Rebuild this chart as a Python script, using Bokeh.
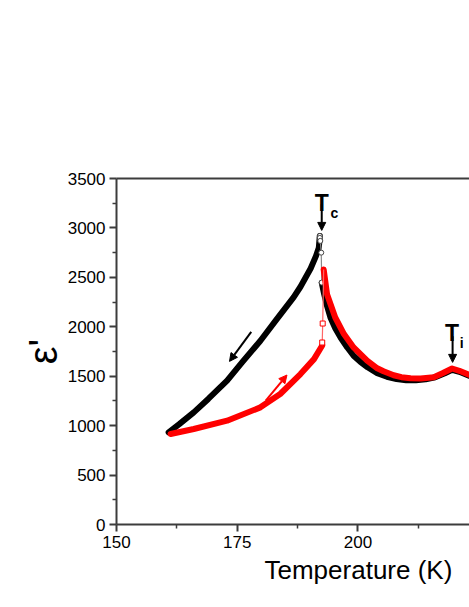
from bokeh.plotting import figure
from bokeh.models import Range1d, LinearAxis, FixedTicker, Arrow, NormalHead, Label, Title
from bokeh.embed import file_html
from bokeh.resources import INLINE

# ---- data ----
# cooling run (black): low-T branch up to the peak at Tc
cool_low_T = [160.8, 163.0, 166.0, 169.0, 172.9, 176.0, 179.8, 183.0, 186.7, 188.1, 190.2, 191.3, 191.9, 192.1]
cool_low_eps = [932, 1015, 1134, 1270, 1455, 1640, 1859, 2065, 2300, 2405, 2590, 2715, 2801, 2919]
# cooling run: sparse points across the jump at Tc
cool_jump_T = [192.1, 192.1, 192.2, 192.4, 192.5]
cool_jump_eps = [2919, 2899, 2869, 2750, 2447]
# cooling run: high-T branch
cool_high_T = [192.5, 193.0, 193.6, 194.3, 195.3, 196.4, 197.8, 199.1, 200.5, 202.0, 204.0, 206.0,
               208.0, 210.0, 212.0, 214.0, 216.0, 218.0, 219.5, 221.0, 223.0]
cool_high_eps = [2447, 2330, 2210, 2094, 1985, 1892, 1790, 1707, 1645, 1590, 1530, 1495,
                 1472, 1458, 1458, 1468, 1490, 1530, 1565, 1545, 1505]

# heating run (red): low-T branch
heat_low_T = [161.2, 166.0, 172.9, 179.8, 183.9, 188.1, 190.9, 192.6]
heat_low_eps = [916, 966, 1050, 1185, 1320, 1522, 1673, 1810]
# heating run: sparse points across the jump
heat_jump_T = [192.6, 192.6, 192.7, 192.9]
heat_jump_eps = [1810, 1841, 2033, 2580]
heat_jump_mark_T = [192.6, 192.7]
heat_jump_mark_eps = [1841, 2033]
# heating run: high-T branch
heat_high_T = [192.9, 193.6, 195.3, 197.1, 199.1, 201.9, 204.0, 205.3, 207.4, 209.0, 210.9, 213.0,
               215.7, 217.5, 219.5, 221.0, 223.0]
heat_high_eps = [2580, 2330, 2094, 1926, 1791, 1657, 1580, 1550, 1510, 1490, 1480, 1476,
                 1490, 1530, 1578, 1555, 1515]

x_major = [150, 175, 200, 225]
x_minor = [162.5, 187.5, 212.5]
y_major = [0, 500, 1000, 1500, 2000, 2500, 3000, 3500]
y_minor = [250, 750, 1250, 1750, 2250, 2750, 3250]

FONT = "Liberation Sans"
AX = "#3c3c3c"

p = figure(width=469, height=607, output_backend="svg", toolbar_location=None,
           x_range=Range1d(150, 223.1), y_range=Range1d(0, 3500),
           min_border_left=116, min_border_right=0, min_border_top=178, min_border_bottom=83)
p.outline_line_color = None
p.grid.visible = False
p.background_fill_color = "white"
p.border_fill_color = "white"

for ax in (p.xaxis[0], p.yaxis[0]):
    ax.axis_line_color = AX
    ax.axis_line_width = 2
    ax.major_tick_line_color = AX
    ax.major_tick_line_width = 2
    ax.minor_tick_line_color = AX
    ax.minor_tick_line_width = 1.5
    ax.major_tick_out = 7
    ax.major_tick_in = 0
    ax.minor_tick_out = 4
    ax.minor_tick_in = 0
    ax.major_label_text_font = FONT
    ax.major_label_text_font_size = "17px"
    ax.major_label_text_color = "black"
    ax.major_label_standoff = 4

p.xaxis.ticker = FixedTicker(ticks=x_major, minor_ticks=x_minor)
p.yaxis.ticker = FixedTicker(ticks=y_major, minor_ticks=y_minor)

p.yaxis.axis_label = "ε'"
p.yaxis.axis_label_text_font = FONT
p.yaxis.axis_label_text_font_size = "40px"
p.yaxis.axis_label_text_font_style = "normal"
p.yaxis.axis_label_text_color = "black"
p.yaxis.axis_label_standoff = 0

top = LinearAxis(ticker=FixedTicker(ticks=[], minor_ticks=[]), axis_line_color=AX, axis_line_width=2,
                 major_tick_line_color=None, minor_tick_line_color=None)
p.add_layout(top, "above")

# x-axis title, centred on T = 200 K as in the reference
p.add_layout(Title(text="Temperature (K)", text_font=FONT, text_font_size="26px",
                   text_font_style="normal", text_color="black", align="left",
                   offset=148, standoff=4), "below")

# curves
p.line(cool_low_T, cool_low_eps, line_color="black", line_width=6, line_join="round", line_cap="round")
p.line(cool_high_T, cool_high_eps, line_color="black", line_width=6, line_join="round", line_cap="round")
p.line(cool_jump_T, cool_jump_eps, line_color="#888888", line_width=1.2)
p.scatter(cool_jump_T, cool_jump_eps, marker="circle", size=5, fill_color="white",
          line_color="#444444", line_width=1)

p.line(heat_low_T, heat_low_eps, line_color="red", line_width=6, line_join="round", line_cap="round")
p.line(heat_high_T, heat_high_eps, line_color="red", line_width=6, line_join="round", line_cap="round")
p.line(heat_jump_T, heat_jump_eps, line_color="#ff6666", line_width=1.2)
p.scatter(heat_jump_mark_T, heat_jump_mark_eps, marker="square", size=5, fill_color="white",
          line_color="red", line_width=1)

# direction arrows
p.add_layout(Arrow(end=NormalHead(size=8, fill_color="black", line_color="black"),
                   x_start=177.9, y_start=1949, x_end=173.4, y_end=1650,
                   line_color="black", line_width=2))
p.add_layout(Arrow(end=NormalHead(size=8, fill_color="red", line_color="red"),
                   x_start=180.9, y_start=1253, x_end=185.3, y_end=1512,
                   line_color="red", line_width=2))
# transition markers
p.add_layout(Arrow(end=NormalHead(size=8, fill_color="black", line_color="black"),
                   x_start=192.5, y_start=3240, x_end=192.5, y_end=2975,
                   line_color="black", line_width=2))
p.add_layout(Arrow(end=NormalHead(size=8, fill_color="black", line_color="black"),
                   x_start=219.6, y_start=1905, x_end=219.6, y_end=1640,
                   line_color="black", line_width=2))

for x, y, t, s, a in [(192.5, 3256, "T", "23px", "center"), (194.3, 3152, "c", "14px", "left"),
                      (219.5, 1942, "T", "23px", "center"), (221.1, 1841, "i", "14px", "left")]:
    p.add_layout(Label(x=x, y=y, text=t, text_font=FONT, text_font_size=s, text_color="black",
                       text_font_style="bold", text_align=a, text_baseline="alphabetic"))

open("out.html", "w").write(file_html(p, INLINE))
